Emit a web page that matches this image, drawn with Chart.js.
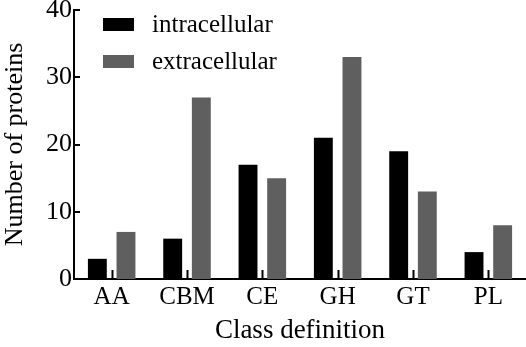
<!DOCTYPE html>
<html>
<head>
<meta charset="utf-8">
<script src="https://cdn.jsdelivr.net/npm/chart.js@4"></script>
<style>
  body { margin: 0; background: #fff; }
  #wrap { width: 526px; height: 347px; }
</style>
</head>
<body>
<div id="wrap"><canvas id="classChart"></canvas></div>
<script>
const classes = ["AA", "CBM", "CE", "GH", "GT", "PL"];
const intracellular = [3, 6, 17, 21, 19, 4];
const extracellular = [7, 27, 15, 33, 13, 8];
const yTicks = [0, 10, 20, 30, 40];

const serif = "'Liberation Serif', 'Times New Roman', serif";

// inward ticks on both axes + legend in the top-left of the plot
const figureBits = {
  id: 'figureBits',
  afterDraw(chart) {
    const ctx = chart.ctx;
    const x = chart.scales.x, y = chart.scales.y;
    const area = chart.chartArea;
    ctx.save();
    ctx.strokeStyle = '#000';
    ctx.lineWidth = 2;
    classes.forEach((c, i) => {
      const px = Math.round(x.getPixelForValue(i)) + 0.5;
      ctx.beginPath();
      ctx.moveTo(px, area.bottom);
      ctx.lineTo(px, area.bottom - 9);
      ctx.stroke();
    });
    yTicks.forEach(v => {
      const py = Math.round(y.getPixelForValue(v));
      ctx.beginPath();
      ctx.moveTo(area.left, py);
      ctx.lineTo(area.left + 6, py);
      ctx.stroke();
    });

    ctx.font = '25px ' + serif;
    ctx.textBaseline = 'middle';
    chart.data.datasets.forEach((ds, i) => {
      const cy = 25 + i * 37;
      ctx.fillStyle = ds.backgroundColor;
      ctx.fillRect(103, cy - 7, 31, 13);
      ctx.fillStyle = '#000';
      ctx.fillText(ds.label, 152, cy);
    });
    ctx.restore();
  }
};

new Chart(document.getElementById('classChart').getContext('2d'), {
  type: 'bar',
  data: {
    labels: classes,
    datasets: [{
      label: 'intracellular',
      data: intracellular,
      backgroundColor: '#000000'
    }, {
      label: 'extracellular',
      data: extracellular,
      backgroundColor: '#5f5f5f'
    }]
  },
  options: {
    responsive: true,
    maintainAspectRatio: false,
    animation: false,
    categoryPercentage: 0.76,
    barPercentage: 0.66,
    layout: { padding: { left: 0, right: 0, top: 0, bottom: 0 } },
    scales: {
      x: {
        grid: { display: false, drawTicks: false },
        border: { color: '#000', width: 2 },
        ticks: { color: '#000', font: { family: serif, size: 25 }, padding: 3 },
        title: {
          display: true,
          text: 'Class definition',
          color: '#000',
          font: { family: serif, size: 27 },
          padding: { top: 4, bottom: 0 }
        },
        afterFit(scale) { scale.height = 68; }
      },
      y: {
        min: 0,
        max: 40,
        grid: { display: false, drawTicks: false },
        border: { color: '#000', width: 2 },
        ticks: { stepSize: 10, color: '#000', font: { family: serif, size: 26 }, padding: 2 },
        title: {
          display: true,
          text: 'Number of proteins',
          color: '#000',
          font: { family: serif, size: 26 },
          padding: { top: 0, bottom: 2 }
        },
        afterFit(scale) {
          scale.width = 74;
          scale.paddingTop = 10;
        }
      }
    },
    plugins: {
      legend: { display: false },
      tooltip: { enabled: false }
    }
  },
  plugins: [figureBits]
});
</script>
</body>
</html>
